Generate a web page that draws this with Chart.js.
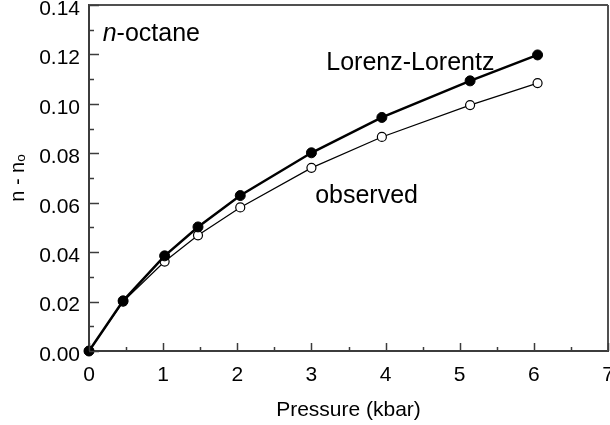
<!DOCTYPE html>
<html>
<head>
<meta charset="utf-8">
<script src="https://cdn.jsdelivr.net/npm/chart.js@4.4.1/dist/chart.umd.min.js"></script>
<style>
  html, body { margin: 0; padding: 0; background: #fff; }
  #wrap { width: 610px; height: 425px; }
</style>
</head>
<body>
<div id="wrap"><canvas id="octaneChart" width="610" height="425"></canvas></div>
<script>
// pressure in kbar, n - n0 for both curves
const pressure = [0, 0.46, 1.02, 1.47, 2.04, 3.0, 3.95, 5.14, 6.05];
const lorenzLorentz = [0, 0.0203, 0.0385, 0.0502, 0.0629, 0.0802, 0.0945, 0.1093, 0.1198];
const observed = [0, 0.0200, 0.0362, 0.0468, 0.0581, 0.0741, 0.0866, 0.0995, 0.1084];

const xTicks = [0, 1, 2, 3, 4, 5, 6, 7];
const yTicks = [0, 0.02, 0.04, 0.06, 0.08, 0.10, 0.12, 0.14];

const FONT = '"Liberation Sans", Arial, Helvetica, sans-serif';
const AXIS_COLOR = '#3c3c3c';

const toPoints = (xs, ys) => xs.map((x, i) => ({ x: x, y: ys[i] }));

// inward ticks + top/right frame
const frameTicks = {
    id: 'frameTicks',
    afterDraw(chart) {
        const ctx = chart.ctx;
        const area = chart.chartArea;
        const xs = chart.scales.x;
        const ys = chart.scales.y;
        ctx.save();
        ctx.strokeStyle = '#505050';
        ctx.lineWidth = 2;
        ctx.beginPath();
        ctx.moveTo(area.left, area.top);
        ctx.lineTo(area.right, area.top);
        ctx.moveTo(area.right, area.top);
        ctx.lineTo(area.right, area.bottom);
        ctx.stroke();

        ctx.strokeStyle = AXIS_COLOR;
        ctx.lineWidth = 1.5;
        ctx.beginPath();
        for (let i = 0; i < yTicks.length; i++) {
            const py = Math.round(ys.getPixelForValue(yTicks[i])) + 0.5;
            ctx.moveTo(area.left, py);
            ctx.lineTo(area.left + 10, py);
            if (i < yTicks.length - 1) {
                const pm = Math.round(ys.getPixelForValue((yTicks[i] + yTicks[i + 1]) / 2)) + 0.5;
                ctx.moveTo(area.left, pm);
                ctx.lineTo(area.left + 5, pm);
            }
        }
        for (let i = 0; i < xTicks.length; i++) {
            const px = Math.round(xs.getPixelForValue(xTicks[i])) + 0.5;
            ctx.moveTo(px, area.bottom);
            ctx.lineTo(px, area.bottom - 8);
            if (i < xTicks.length - 1) {
                const pm = Math.round(xs.getPixelForValue((xTicks[i] + xTicks[i + 1]) / 2)) + 0.5;
                ctx.moveTo(pm, area.bottom);
                ctx.lineTo(pm, area.bottom - 4);
            }
        }
        ctx.stroke();
        ctx.restore();
    }
};

// text labels placed in data coordinates
const curveLabels = {
    id: 'curveLabels',
    afterDatasetsDraw(chart) {
        const ctx = chart.ctx;
        const xs = chart.scales.x;
        const ys = chart.scales.y;
        ctx.save();
        ctx.fillStyle = '#000';
        ctx.textBaseline = 'alphabetic';
        ctx.textAlign = 'left';

        // n-octane, with italic n
        let px = xs.getPixelForValue(0.185);
        let py = ys.getPixelForValue(0.1255);
        ctx.font = 'italic 25px ' + FONT;
        ctx.fillText('n', px, py);
        px += ctx.measureText('n').width;
        ctx.font = '25px ' + FONT;
        ctx.fillText('-octane', px, py);

        ctx.fillText('Lorenz-Lorentz', xs.getPixelForValue(3.2), ys.getPixelForValue(0.1138));
        ctx.fillText('observed', xs.getPixelForValue(3.05), ys.getPixelForValue(0.0599));
        ctx.restore();
    }
};

new Chart(document.getElementById('octaneChart'), {
    type: 'scatter',
    data: {
        datasets: [
            {
                label: 'Lorenz-Lorentz',
                data: toPoints(pressure, lorenzLorentz),
                showLine: true,
                borderColor: '#000',
                borderWidth: 2.5,
                pointRadius: 5,
                pointBackgroundColor: '#000',
                pointBorderColor: '#000',
                pointBorderWidth: 1,
                clip: false,
                order: 1
            },
            {
                label: 'observed',
                data: toPoints(pressure, observed),
                showLine: true,
                borderColor: '#000',
                borderWidth: 1.2,
                pointRadius: 4.5,
                pointBackgroundColor: '#fff',
                pointBorderColor: '#000',
                pointBorderWidth: 1.2,
                clip: false,
                order: 2
            }
        ]
    },
    options: {
        responsive: false,
        animation: false,
        devicePixelRatio: 1,
        layout: { autoPadding: false, padding: { left: 0, top: 5, right: 2, bottom: 0 } },
        plugins: {
            legend: { display: false },
            tooltip: { enabled: false }
        },
        scales: {
            x: {
                type: 'linear',
                min: 0,
                max: 7,
                afterBuildTicks: (scale) => { scale.ticks = xTicks.map(v => ({ value: v })); },
                afterFit: (scale) => {
                    scale.height = 74;
                    scale.paddingLeft = 0;
                    scale.paddingRight = 0;
                },
                grid: { display: true, drawOnChartArea: false, drawTicks: false },
                border: { display: true, color: AXIS_COLOR, width: 2 },
                ticks: {
                    padding: 12,
                    color: '#000',
                    font: { family: FONT, size: 21 },
                    maxRotation: 0
                },
                title: {
                    display: true,
                    text: 'Pressure (kbar)',
                    color: '#000',
                    font: { family: FONT, size: 21 },
                    padding: { top: 0, bottom: 2 }
                }
            },
            y: {
                type: 'linear',
                min: 0,
                max: 0.14,
                afterBuildTicks: (scale) => { scale.ticks = yTicks.map(v => ({ value: v })); },
                afterFit: (scale) => {
                    scale.width = 89;
                    scale.paddingTop = 0;
                    scale.paddingBottom = 0;
                },
                grid: { display: true, drawOnChartArea: false, drawTicks: false },
                border: { display: true, color: AXIS_COLOR, width: 2 },
                ticks: {
                    padding: 9,
                    labelOffset: 4,
                    color: '#000',
                    font: { family: FONT, size: 21 },
                    callback: (v) => Number(v).toFixed(2)
                },
                title: {
                    display: true,
                    text: 'n - n\u2092',
                    color: '#000',
                    font: { family: FONT, size: 20 },
                    padding: { top: 6, bottom: 0 }
                }
            }
        }
    },
    plugins: [frameTicks, curveLabels]
});
</script>
</body>
</html>
